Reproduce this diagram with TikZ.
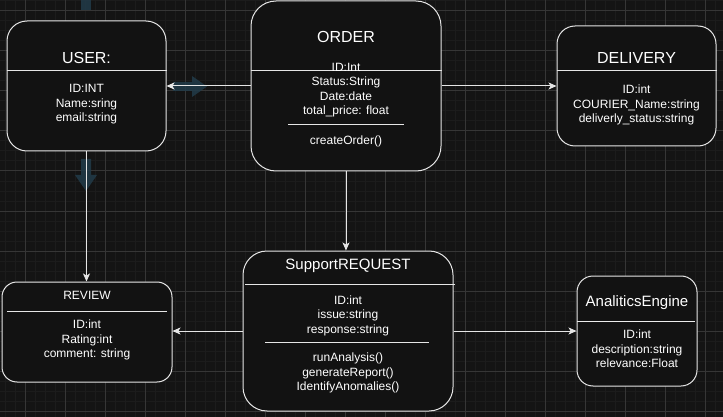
\documentclass[tikz,border=0pt]{standalone}
\usepackage{fontspec}
\setmainfont{Liberation Sans}
\setsansfont{Liberation Sans}
\usetikzlibrary{arrows.meta,positioning}
\definecolor{canvasdark}{HTML}{141414}
\definecolor{gridminor}{HTML}{1C1C1C}
\definecolor{gridmajor}{HTML}{363636}
\definecolor{boxfill}{HTML}{121212}
\definecolor{edgewhite}{HTML}{E6E6E6}
\definecolor{hintblue}{HTML}{223B49}

\begin{document}
\begin{tikzpicture}[
    x=1pt, y=-1pt,
    font=\sffamily,
    >=Stealth,
    entity/.style={
        draw=edgewhite,
        fill=boxfill,
        line width=1pt,
        inner sep=0pt
    },
    entitytitle/.style={
        text=white,
        font=\sffamily\fontsize{16}{19}\selectfont
    },
    attrs/.style={
        text=white,
        align=center,
        yshift=-2pt,
        font=\sffamily\fontsize{12}{14.4}\selectfont
    },
    divider/.style={
        draw=edgewhite,
        line width=1pt
    },
    link/.style={
        -{Stealth[length=8pt,width=7pt,inset=2pt]},
        draw=edgewhite,
        line width=1pt
    },
    hint/.style={
        fill=hintblue,
        fill opacity=0.85
    }
]

% Canvas and grid
\useasboundingbox (0,0) rectangle (723,417);
\fill[canvasdark] (0,0) rectangle (723,417);
\foreach \gx in {5,15,...,715} {
    \draw[gridminor,line width=1pt] (\gx,0) -- (\gx,417);
}
\foreach \gy in {1,11,...,411} {
    \draw[gridminor,line width=1pt] (0,\gy) -- (723,\gy);
}
\foreach \gx in {25,65,...,705} {
    \draw[gridmajor,line width=1pt] (\gx,0) -- (\gx,417);
}
\foreach \gy in {11,51,...,411} {
    \draw[gridmajor,line width=1pt] (0,\gy) -- (723,\gy);
}

% Faint hover hints
\fill[hint] (81,0) rectangle (91,10);
\fill[hint] (173,82) -- (192,82) -- (192,76) -- (207,86.5)
    -- (192,97) -- (192,91) -- (173,91) -- cycle;
\fill[hint] (81,159) -- (91,159) -- (91,175) -- (97,175)
    -- (86,191) -- (75,175) -- (81,175) -- cycle;

% Entities
\node[entity, minimum width=159pt, minimum height=130pt, rounded corners=20pt] (user) at (86.5,86) {};
\node[entity, minimum width=190pt, minimum height=170pt, rounded corners=25pt] (order) at (346,86) {};
\node[entity, minimum width=159pt, minimum height=120pt, rounded corners=18pt] (delivery) at (636.5,86) {};
\node[entity, minimum width=170pt, minimum height=100pt, rounded corners=15pt] (review) at (87,332) {};
\node[entity, minimum width=210pt, minimum height=160pt, rounded corners=24pt] (support) at (348,331) {};
\node[entity, minimum width=120pt, minimum height=110pt, rounded corners=16pt] (ae) at (637,331) {};

% Header dividers
\draw[divider] (user.west |- 0,71) -- (user.east |- 0,71);
\draw[divider] (order.west |- 0,71) -- (order.east |- 0,71);
\draw[divider] (delivery.west |- 0,71) -- (delivery.east |- 0,71);
\draw[divider] (7,311) -- (167,311);
\draw[divider] (245,284) -- (455,284);
\draw[divider, draw=edgewhite!75] (577,321) -- (695,321);

% Method dividers
\draw[divider] (288,125) -- (404,125);
\draw[divider] (265,342) -- (429,342);

% Titles
\node[entitytitle] (user-title) at (86.5,57.5) {USER:};
\node[entitytitle] (order-title) at (346,36.5) {ORDER};
\node[entitytitle] (delivery-title) at (636.5,57.5) {DELIVERY};
\node[entitytitle, font=\sffamily\fontsize{12}{14.4}\selectfont] (review-title) at (87,295.5) {REVIEW};
\node[entitytitle, font=\sffamily\fontsize{15}{18}\selectfont] (support-title) at (348,265.5) {SupportREQUEST};
\node[entitytitle, font=\sffamily\fontsize{15}{18}\selectfont] (ae-title) at (637,302.5) {AnaliticsEngine};

% Attributes and methods
\node[attrs] (user-attrs) at (86.5,102.5) {ID:INT\\Name:sring\\email:string};
\node[attrs] (order-attrs) at (346,88) {ID:Int\\Status:String\\Date:date\\total\_price: float};
\node[attrs] (order-ops) at (346,139) {createOrder()};
\node[attrs] (delivery-attrs) at (636.5,103) {ID:int\\COURIER\_Name:string\\deliverly\_status:string};
\node[attrs] (review-attrs) at (87,338) {ID:int\\Rating:int\\comment: string};
\node[attrs] (support-attrs) at (348,313.5) {ID:int\\issue:string\\response:string};
\node[attrs] (support-ops) at (348,371) {runAnalysis()\\generateReport()\\IdentifyAnomalies()};
\node[attrs] (ae-attrs) at (637,347) {ID:int\\description:string\\relevance:Float};

% Relations
\draw[link] (order.west) -- (user.east);
\draw[link] (order.east) -- (delivery.west);
\draw[link] (order.south) -- (order.south |- support.north);
\draw[link] (user.south) -- (user.south |- review.north);
\draw[link] (support.west) -- (support.west -| review.east);
\draw[link] (support.east) -- (support.east -| ae.west);

\end{tikzpicture}
\end{document}
